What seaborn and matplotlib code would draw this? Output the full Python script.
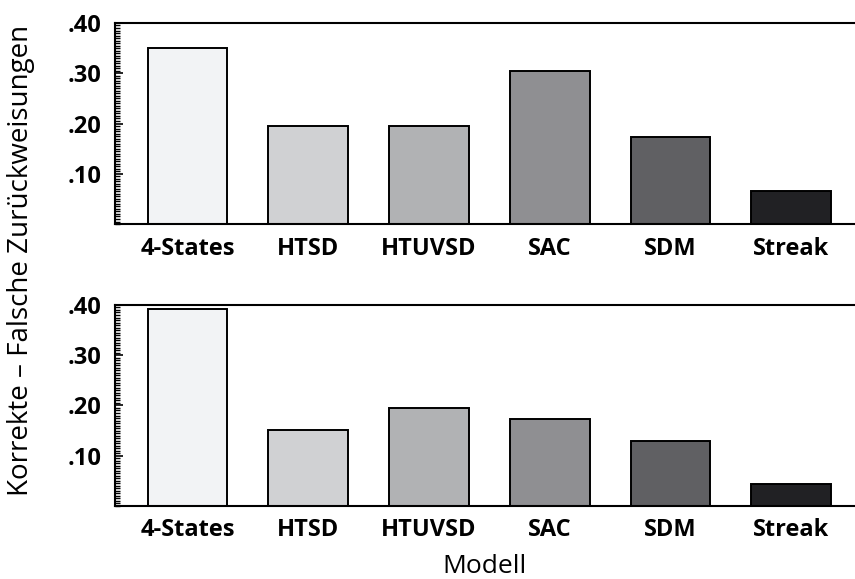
import pandas as pd
import matplotlib.pyplot as plt
import seaborn as sns
from matplotlib.ticker import MultipleLocator, FuncFormatter

# Daten
modelle = ["4-States", "HTSD", "HTUVSD", "SAC", "SDM", "Streak"]
werte_oben = [0.350, 0.195, 0.195, 0.305, 0.174, 0.066]
werte_unten = [0.392, 0.151, 0.195, 0.173, 0.129, 0.044]
farben = ["#f2f3f5", "#d0d1d3", "#b0b2b5", "#8e8f93", "#5f6064", "#202124"]

sns.set_theme(style="white")
plt.rcParams['font.family'] = ['Open Sans', 'DejaVu Sans']

fig = plt.figure(figsize=(8.55, 5.79), dpi=100)
ax1 = fig.add_axes([0.1345, 0.6131, 0.8645, 0.3472])
ax2 = fig.add_axes([0.1345, 0.1261, 0.8645, 0.3472])

def fmt(v, pos):
    return f"{v:.2f}".lstrip("0")

for ax, werte in [(ax1, werte_oben), (ax2, werte_unten)]:
    df = pd.DataFrame({"Modell": modelle, "Wert": werte})
    sns.barplot(data=df, x="Modell", y="Wert", hue="Modell", palette=farben,
                legend=False, width=0.66, edgecolor="black", linewidth=1.4, ax=ax)
    ax.set_xlim(-0.6, 5.52)
    ax.set_ylim(0, 0.40)
    ax.yaxis.set_minor_locator(MultipleLocator(0.005))
    ax.yaxis.set_major_formatter(FuncFormatter(fmt))
    ax.set_yticks([0.10, 0.20, 0.30, 0.40])
    ax.tick_params(axis="y", which="major", direction="in", length=6, width=1.2,
                   left=True, labelsize=17, pad=10, colors="black")
    ax.tick_params(axis="y", which="minor", direction="in", length=3.5, width=1.0,
                   left=True, colors="black")
    ax.tick_params(axis="x", length=0, labelsize=17, pad=9, colors="black")
    for lab in ax.get_xticklabels() + ax.get_yticklabels():
        lab.set_fontweight("bold")
    for side in ["left", "bottom", "top"]:
        ax.spines[side].set_linewidth(1.5)
        ax.spines[side].set_color("black")
    ax.spines["right"].set_visible(False)
    ax.set_ylabel("")
    ax.set_xlabel("")

ax2.set_xlabel("Modell", fontsize=19, labelpad=8, color="black")
fig.text(0.024, 0.55, "Korrekte – Falsche Zurückweisungen", rotation=90,
         ha="center", va="center", fontsize=20, color="black")

plt.savefig("out.png", dpi=100)
plt.close()
